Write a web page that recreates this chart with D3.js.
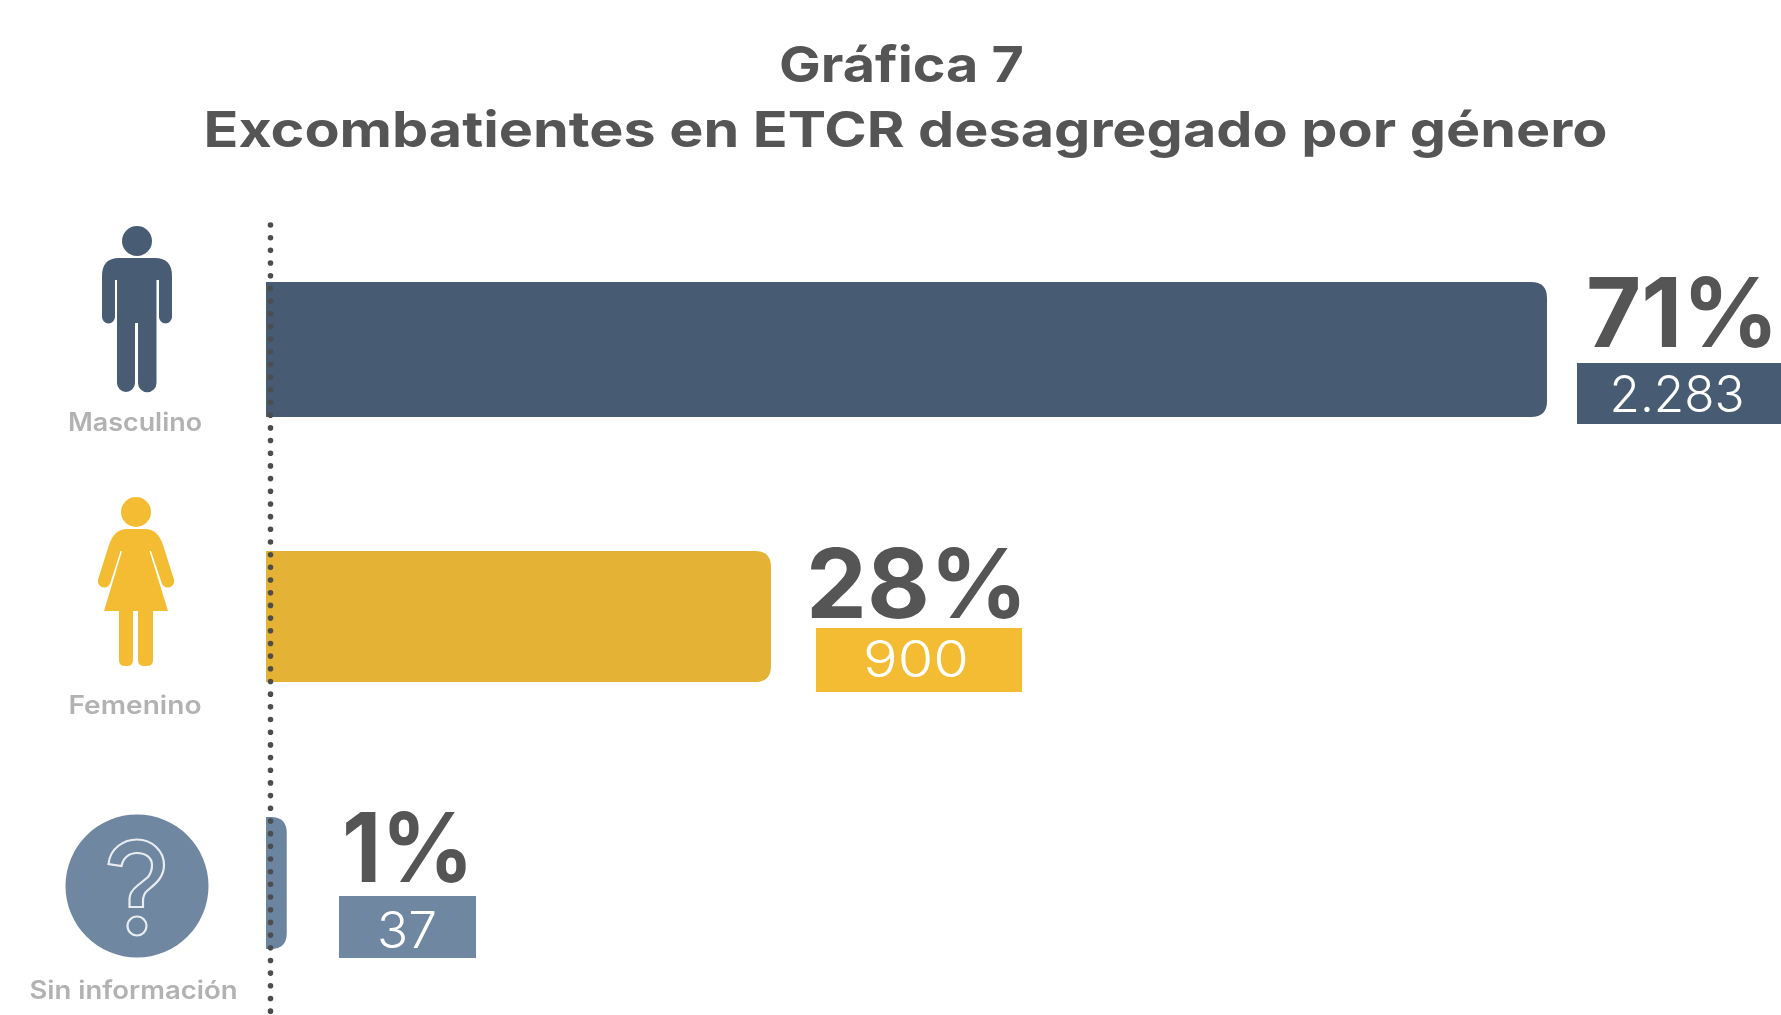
<!DOCTYPE html>
<html lang="es">
<head>
<meta charset="utf-8">
<title>Gráfica 7</title>
<script src="https://cdn.jsdelivr.net/npm/d3@7"></script>
<style>
html,body{margin:0;padding:0;background:#fff;overflow:hidden}
svg{display:block;font-family:Inter,"Open Sans",sans-serif;filter:blur(0.55px)}
</style>
</head>
<body>
<svg id="chart" width="1781" height="1015"></svg>
<script>
// ---- data ----
const categories = ["Masculino", "Femenino", "Sin información"];
const counts = [2283, 900, 37];
const countLabels = ["2.283", "900", "37"];
const percentLabels = ["71%", "28%", "1%"];
const titleLines = ["Gráfica 7", "Excombatientes en ETCR desagregado por género"];

// ---- appearance ----
const barColors = ["#475c73", "#e4b335", "#6b85a0"];
const boxColors = ["#475c73", "#f4bc33", "#6f87a1"];
const iconColors = ["#485d74", "#f4bc33", "#6f87a1"];
const textGrey = "#555555", labelGrey = "#b2b2b2";
const barTops = [282, 551, 817], barHeights = [135, 131, 132];
const pctLayout = [{x:1586,w:193,base:347},{x:806,w:222,base:618},{x:342,w:132,base:882}];
const boxLayout = [{x:1577,y:363,w:204,h:61,tc:1677,tw:135,base:412},
                   {x:816,y:628,w:206,h:64,tc:916,tw:106,base:677},
                   {x:339,y:896,w:137,h:62,tc:407,tw:60,base:948}];
const catLayout = [{c:135,w:134,base:431},{c:135,w:133,base:714},{c:133.5,w:208,base:999}];

const svg = d3.select("#chart");
const x = d3.scaleLinear().domain([0, 2283]).range([266, 1547]);
const yTop = d3.scaleOrdinal().domain(categories).range(barTops);
const yH = d3.scaleOrdinal().domain(categories).range(barHeights);
const rows = categories.map((c,i)=>({c,i,v:counts[i]}));

// title
svg.selectAll("text.title").data(titleLines).join("text").attr("class","title")
  .attr("x",(d,i)=>[901.5,905.5][i]).attr("y",(d,i)=>[82,147][i])
  .attr("text-anchor","middle").attr("font-size",50).attr("font-weight",700)
  .attr("fill",textGrey)
  .attr("textLength",(d,i)=>[245,1404][i]).attr("lengthAdjust","spacingAndGlyphs")
  .text(d=>d);

// bars: square on the axis side, rounded at the value end
function barPath(d){
  const x0=x(0), x1=x(d.v), y0=yTop(d.c), y1=y0+yH(d.c), r=16;
  return `M${x0},${y0}H${x1-r}Q${x1},${y0} ${x1},${y0+r}V${y1-r}Q${x1},${y1} ${x1-r},${y1}H${x0}Z`;
}
svg.selectAll("path.bar").data(rows).join("path").attr("class","bar")
  .attr("d",barPath).attr("fill",d=>barColors[d.i]);

// dotted baseline
svg.append("line").attr("x1",270.5).attr("x2",270.5).attr("y1",225).attr("y2",1015)
  .attr("stroke","#4d4d4d").attr("stroke-width",5.6)
  .attr("stroke-linecap","round").attr("stroke-dasharray","0 12.68");

// percent labels
svg.selectAll("text.pct").data(rows).join("text").attr("class","pct")
  .attr("x",d=>pctLayout[d.i].x).attr("y",d=>pctLayout[d.i].base)
  .attr("font-size",96).attr("font-weight",700).attr("fill",textGrey)
  .attr("textLength",d=>pctLayout[d.i].w).attr("lengthAdjust","spacingAndGlyphs")
  .text(d=>percentLabels[d.i]);

// count boxes
svg.selectAll("rect.box").data(rows).join("rect").attr("class","box")
  .attr("x",d=>boxLayout[d.i].x).attr("y",d=>boxLayout[d.i].y)
  .attr("width",d=>boxLayout[d.i].w).attr("height",d=>boxLayout[d.i].h)
  .attr("fill",d=>boxColors[d.i]);
svg.selectAll("text.count").data(rows).join("text").attr("class","count")
  .attr("x",d=>boxLayout[d.i].tc).attr("y",d=>boxLayout[d.i].base)
  .attr("text-anchor","middle").attr("font-size",50).attr("font-weight",300).attr("fill","#fff")
  .attr("textLength",d=>boxLayout[d.i].tw).attr("lengthAdjust","spacingAndGlyphs")
  .text(d=>countLabels[d.i]);

// category labels
svg.selectAll("text.cat").data(rows).join("text").attr("class","cat")
  .attr("x",d=>catLayout[d.i].c).attr("y",d=>catLayout[d.i].base)
  .attr("text-anchor","middle").attr("font-size",25).attr("font-weight",600).attr("fill",labelGrey)
  .attr("textLength",d=>catLayout[d.i].w).attr("lengthAdjust","spacingAndGlyphs")
  .text(d=>d.c);

// icons
const icons = svg.append("g");
icons.append("circle").attr("cx",137).attr("cy",241).attr("r",15).attr("fill",iconColors[0]);
icons.append("path").attr("fill",iconColors[0])
  .attr("d","M119 258H155Q172 258 172 276V317A6.5 6.5 0 0 1 159 317V280H156.5V383A9.25 9.25 0 0 1 138 383V323H135V383A9 9 0 0 1 117 383V280H115V317A6.5 6.5 0 0 1 102 317V276Q102 258 119 258Z");
icons.append("circle").attr("cx",136).attr("cy",512).attr("r",15).attr("fill",iconColors[1]);
icons.append("path").attr("fill",iconColors[1])
  .attr("d","M127 529H145Q158 529 163 545L173.5 578A6 6 0 0 1 162 584L151 551H149.5L168 611H153V660Q153 666 147 666H144Q138 666 138 660V611H133V660Q133 666 127 666H125Q119 666 119 660V611H104L122 551H120.5L110 584A6 6 0 0 1 98.5 578L109 545Q114 529 127 529Z");
icons.append("circle").attr("cx",137).attr("cy",886).attr("r",71.5).attr("fill",iconColors[2]);
icons.append("path").attr("fill","none").attr("stroke","#fff").attr("stroke-opacity",.85).attr("stroke-width",2.2)
  .attr("d","M108.5 864C110 848 124 839.5 137 839.5C152 839.5 164 851 164 865C164 878 154 885 148 890Q143 894 143 901V907H129.5V899Q129.5 892 137 886L148 877Q152 872 152 865C152 858 146 853 137 853C129 853 123 858 121.5 866Z");
icons.append("circle").attr("cx",137).attr("cy",926).attr("r",9.5).attr("fill","none")
  .attr("stroke","#fff").attr("stroke-opacity",.85).attr("stroke-width",2.2);
</script>
</body>
</html>
